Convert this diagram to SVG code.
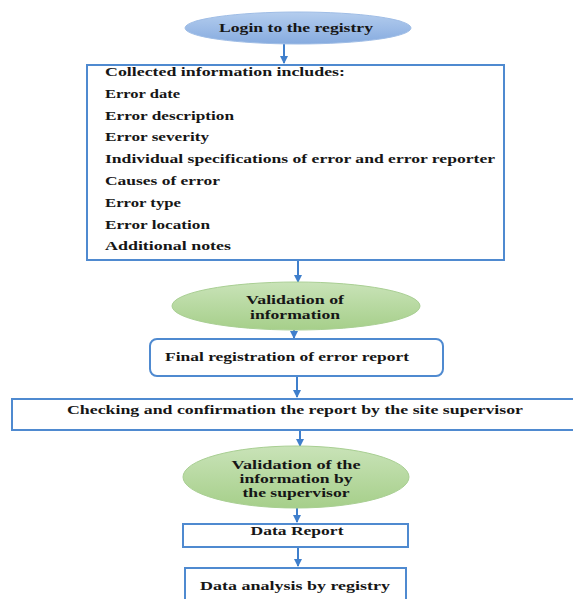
<svg xmlns="http://www.w3.org/2000/svg" width="573" height="599" viewBox="0 0 573 599">
<defs>
<linearGradient id="gBlue" x1="0" y1="0" x2="0" y2="1">
<stop offset="0" stop-color="#b4cdee"/>
<stop offset="1" stop-color="#86abdf"/>
</linearGradient>
<linearGradient id="gGreen" x1="0" y1="0" x2="0" y2="1">
<stop offset="0" stop-color="#c9e3b8"/>
<stop offset="1" stop-color="#a6cf8a"/>
</linearGradient>
<marker id="ah" markerWidth="8" markerHeight="8" refX="7" refY="4" orient="auto" markerUnits="userSpaceOnUse">
<path d="M0,0 L8,4 L0,8 Z" fill="#3f7fcc"/>
</marker>
<style>
.t{font-family:"Liberation Serif","Times New Roman",serif;font-weight:bold;font-size:13px;fill:#161616}
.c{text-anchor:middle}
.box{fill:#fff;stroke:#4f8ad0;stroke-width:2}
.conn line{stroke:#3f7fcc;stroke-width:2;marker-end:url(#ah)}
</style>
</defs>
<rect width="573" height="599" fill="#fff"/>

<g id="connectors" class="conn">
<line x1="284" y1="44" x2="284" y2="63"/>
<line x1="298" y1="260" x2="298" y2="282"/>
<line x1="294" y1="330" x2="294" y2="338"/>
<line x1="297" y1="376" x2="297" y2="397"/>
<line x1="300" y1="430" x2="300" y2="446"/>
<line x1="297" y1="508" x2="297" y2="522"/>
<line x1="298" y1="547" x2="298" y2="566"/>
</g>

<g id="login">
<ellipse cx="298" cy="28" rx="113" ry="16" fill="url(#gBlue)" stroke="#9fbde6" stroke-width="1"/>
<text class="t c" x="296" y="32" textLength="154" lengthAdjust="spacingAndGlyphs">Login to the registry</text>
</g>

<g id="collected">
<rect class="box" x="87" y="65" width="417" height="195"/>
<text class="t" x="105" y="76" textLength="240" lengthAdjust="spacingAndGlyphs">Collected information includes:</text>
<text class="t" x="105" y="98" textLength="75" lengthAdjust="spacingAndGlyphs">Error date</text>
<text class="t" x="105" y="120" textLength="129" lengthAdjust="spacingAndGlyphs">Error description</text>
<text class="t" x="105" y="141" textLength="104" lengthAdjust="spacingAndGlyphs">Error severity</text>
<text class="t" x="105" y="163" textLength="390" lengthAdjust="spacingAndGlyphs">Individual specifications of error and error reporter</text>
<text class="t" x="105" y="185" textLength="115" lengthAdjust="spacingAndGlyphs">Causes of error</text>
<text class="t" x="105" y="207" textLength="76" lengthAdjust="spacingAndGlyphs">Error type</text>
<text class="t" x="105" y="229" textLength="105" lengthAdjust="spacingAndGlyphs">Error location</text>
<text class="t" x="105" y="250" textLength="126" lengthAdjust="spacingAndGlyphs">Additional notes</text>
</g>

<g id="validation1">
<ellipse cx="296" cy="306" rx="124" ry="24" fill="url(#gGreen)" stroke="#a9cf93" stroke-width="1"/>
<text class="t c" x="295" y="304" textLength="98" lengthAdjust="spacingAndGlyphs">Validation of</text>
<text class="t c" x="295" y="319" textLength="90" lengthAdjust="spacingAndGlyphs">information</text>
</g>

<g id="final">
<rect class="box" x="150" y="339" width="293" height="37" rx="7"/>
<text class="t" x="165" y="361" textLength="244" lengthAdjust="spacingAndGlyphs">Final registration of error report</text>
</g>

<g id="checking">
<rect class="box" x="12" y="399" width="572" height="31"/>
<text class="t c" x="295" y="414" textLength="456" lengthAdjust="spacingAndGlyphs">Checking and confirmation the report by the site supervisor</text>
</g>

<g id="validation2">
<ellipse cx="296" cy="477" rx="113" ry="31" fill="url(#gGreen)" stroke="#a9cf93" stroke-width="1"/>
<text class="t c" x="296" y="469" textLength="129" lengthAdjust="spacingAndGlyphs">Validation of the</text>
<text class="t c" x="296" y="483" textLength="113" lengthAdjust="spacingAndGlyphs">information by</text>
<text class="t c" x="296" y="497" textLength="107" lengthAdjust="spacingAndGlyphs">the supervisor</text>
</g>

<g id="datareport">
<rect class="box" x="183" y="524" width="225" height="23"/>
<text class="t c" x="297" y="535" textLength="93" lengthAdjust="spacingAndGlyphs">Data Report</text>
</g>

<g id="analysis">
<rect class="box" x="185" y="568" width="221" height="40"/>
<text class="t c" x="295" y="590" textLength="190" lengthAdjust="spacingAndGlyphs">Data analysis by registry</text>
</g>
</svg>
